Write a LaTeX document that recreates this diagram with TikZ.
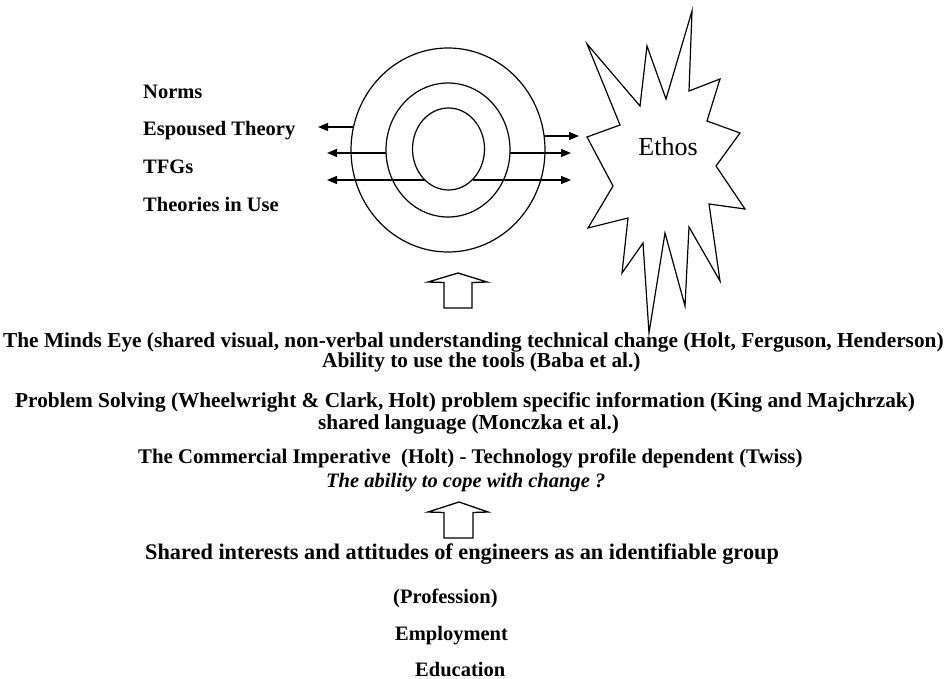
\documentclass[tikz,border=0pt]{standalone}
\usepackage{fontspec}
\setmainfont{Liberation Serif}
\usetikzlibrary{arrows.meta}
\begin{document}
\begin{tikzpicture}[x=1pt,y=-1pt,
  ring/.style={draw=black,line width=1.2pt},
  link/.style={draw=black,line width=1.3pt,-{Triangle[length=10pt,width=8pt]}},
  label/.style={font=\fontsize{20.5}{24}\selectfont\bfseries,inner sep=0pt,anchor=base west},
  wideline/.style={font=\fontsize{21.3}{25}\selectfont\bfseries,inner sep=0pt,anchor=base west},
  midline/.style={font=\fontsize{20.8}{25}\selectfont\bfseries,inner sep=0pt,anchor=base west},
  bigline/.style={font=\fontsize{22.3}{26}\selectfont\bfseries,inner sep=0pt,anchor=base west},
  italicline/.style={font=\fontsize{20.5}{24}\selectfont\bfseries\itshape,inner sep=0pt,anchor=base west},
  burst/.style={draw=black,line width=1.2pt,line join=miter},
  uparrow/.style={draw=black,line width=1.3pt,line join=miter}]
\useasboundingbox (0,0) rectangle (949,679);

% concentric rings
\coordinate (ctr) at (448,150);
\draw[ring] (ctr) ellipse [x radius=97, y radius=102];
\draw[ring] (ctr) ellipse [x radius=62, y radius=67];
\draw[ring] (448.5,149) ellipse [x radius=36, y radius=41];

% left labels
\node[label] (norms) at (143,99) {Norms};
\node[label] (espoused) at (143,136) {Espoused Theory};
\node[label] (tfgs) at (143,173) {TFGs};
\node[label] (theories) at (143,211) {Theories in Use};

% arrow end points on the rings
\coordinate (o1) at (353.5,127);
\coordinate (m1) at (386,153);
\coordinate (i1) at (425,180);
\coordinate (o2) at (544,136);
\coordinate (m2) at (510,153);
\coordinate (i2) at (472.5,180);
\coordinate (lt1) at (318,127);
\coordinate (lt2) at (327,153);
\coordinate (lt3) at (327,180);
\coordinate (rt1) at (579,136);
\coordinate (rt2) at (571,153);
\coordinate (rt3) at (571,180);
\draw[link] (o1) -- (lt1);
\draw[link] (m1) -- (lt2);
\draw[link] (i1) -- (lt3);
\draw[link] (o2) -- (rt1);
\draw[link] (m2) -- (rt2);
\draw[link] (i2) -- (rt3);

% starburst
\draw[burst] (587,44) -- (640,106) -- (647,46) -- (666,99) -- (692,11) -- (689,91)
  -- (720,79) -- (707,121) -- (740,133) -- (716,166) -- (745,209) -- (709,204)
  -- (720,281) -- (689,227) -- (685,306) -- (665,233) -- (649,333) -- (643,243)
  -- (622,273) -- (628,218) -- (588,228) -- (613,186) -- (587,137) -- (620,125)
  -- cycle;
\node[font=\fontsize{26}{30}\selectfont,inner sep=0pt] (ethos) at (668,147) {Ethos};

% hollow up arrows
\draw[uparrow] (444,308) -- (444,282.5) -- (428,282) -- (458,273) -- (487,282)
  -- (472,282.5) -- (472,308) -- cycle;
\draw[uparrow] (444,538) -- (444,512.5) -- (428,512) -- (459,502) -- (488,512)
  -- (473,512.5) -- (473,538) -- cycle;

% text block
\node[wideline] (minds) at (3,347) {The Minds Eye (shared visual, non-verbal understanding technical change (Holt, Ferguson, Henderson)};
\node[wideline] (tools) at (322,367) {Ability to use the tools (Baba et al.)};
\node[wideline] (problem) at (15,407) {Problem Solving (Wheelwright \& Clark, Holt) problem specific information (King and Majchrzak)};
\node[wideline] (language) at (318,429) {shared language (Monczka et al.)};
\node[midline] (commercial) at (138,463) {The Commercial Imperative\ \ (Holt) - Technology profile dependent (Twiss)};
\node[italicline] (cope) at (326,487) {The ability to cope with change ?};
\node[bigline] (shared) at (145,559) {Shared interests and attitudes of engineers as an identifiable group};
\node[label] (profession) at (393,603) {(Profession)};
\node[label] (employment) at (395,640) {Employment};
\node[label] (education) at (415,676) {Education};
\end{tikzpicture}
\end{document}
